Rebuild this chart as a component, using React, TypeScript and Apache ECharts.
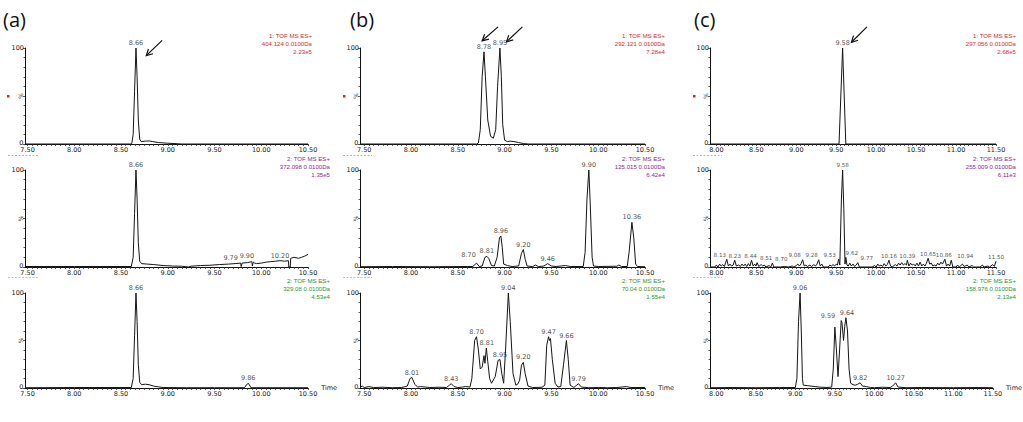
import React, { useEffect, useRef } from "react";
import * as echarts from "echarts";

// ---------- tick labels ----------
const xLabelsAB = [7.5, 8.0, 8.5, 9.0, 9.5, 10.0, 10.5];
const xLabelsC = [8.0, 8.5, 9.0, 9.5, 10.0, 10.5, 11.0, 11.5];
const panelLetters = ["(a)", "(b)", "(c)"];

// ---------- traces [time, %] ----------
const traceA1 = [[7.473,0],[8.60,0],[8.615,0.5],[8.63,10],[8.645,55],[8.66,100],[8.672,70],[8.685,25],[8.70,5],[8.715,2.5],[8.76,3],[8.80,3.2],[8.84,2.5],[8.90,1.5],[9.0,0.8],[9.1,0.3],[9.15,0],[10.5,0]];
const traceA2 = [[7.473,0.5],[8.0,0.5],[8.5,0.5],[8.61,0.5],[8.63,10],[8.645,55],[8.66,100],[8.672,70],[8.685,25],[8.70,6],[8.72,3.5],[8.78,3],[8.85,2.5],[8.95,1.5],[9.05,1],[9.15,0.8],[9.22,0],[9.25,0.8],[9.35,1.5],[9.45,1.8],[9.55,2.5],[9.65,3],[9.72,3.5],[9.78,4],[9.785,0.5],[9.795,4],[9.85,4.5],[9.90,5.5],[9.905,1],[9.915,5],[9.93,4],[9.95,3.5],[10.0,4],[10.05,5],[10.1,5.5],[10.15,6],[10.2,6.5],[10.25,6],[10.29,6.5],[10.295,0],[10.31,0],[10.315,9],[10.35,10],[10.4,9],[10.43,10],[10.46,11],[10.5,13]];
const traceA3 = [[7.473,0.3],[8.0,0.5],[8.5,0.5],[8.61,0.5],[8.63,10],[8.645,55],[8.66,100],[8.672,70],[8.685,25],[8.70,6],[8.72,3.5],[8.76,4],[8.80,3.5],[8.85,2],[8.9,1.2],[8.95,0.5],[9.2,0.3],[9.5,0.3],[9.82,0.3],[9.84,3],[9.86,5],[9.875,3],[9.89,0.3],[10.5,0.3]];
const traceB1 = [[7.455,0],[8.70,0],[8.72,1],[8.74,15],[8.76,70],[8.78,96],[8.795,70],[8.82,25],[8.85,8],[8.88,6],[8.905,15],[8.925,60],[8.95,100],[8.965,70],[8.98,20],[9.0,4],[9.03,2.5],[9.06,3],[9.1,2.5],[9.15,1.5],[9.2,0.5],[9.25,0],[10.5,0]];
const traceB2 = [[7.455,0.3],[7.8,0.5],[8.2,0.3],[8.6,0.5],[8.66,0.5],[8.70,4],[8.73,0.5],[8.76,1],[8.79,10],[8.81,11],[8.83,9],[8.86,1.5],[8.89,1],[8.92,10],[8.945,30],[8.96,32],[8.975,20],[8.99,3],[9.03,1.5],[9.08,0.5],[9.15,1],[9.18,14],[9.20,18],[9.22,8],[9.24,1],[9.3,0.5],[9.33,2],[9.36,0.5],[9.42,1],[9.46,3.5],[9.50,1],[9.55,0.5],[9.65,1.5],[9.70,0.5],[9.84,0.5],[9.86,15],[9.88,70],[9.90,100],[9.915,65],[9.935,10],[9.95,1],[10.0,0.5],[10.2,0.8],[10.22,2],[10.25,0.5],[10.31,0.5],[10.33,15],[10.36,46],[10.38,30],[10.40,3],[10.42,0.5],[10.5,0.3]];
const traceB3 = [[7.455,1],[7.48,2],[7.50,0.5],[7.55,1.5],[7.6,0.5],[7.7,0.8],[7.8,0.3],[7.9,0.5],[7.96,2],[7.99,10],[8.01,11],[8.04,4],[8.07,1],[8.1,1.5],[8.2,0.5],[8.3,0.8],[8.38,0.5],[8.41,3],[8.43,4.5],[8.46,1.5],[8.5,0.5],[8.55,1],[8.58,1.5],[8.63,1],[8.65,10],[8.68,50],[8.70,54],[8.72,40],[8.74,20],[8.76,22],[8.78,34],[8.79,26],[8.805,42],[8.82,28],[8.84,10],[8.86,5],[8.90,12],[8.93,29],[8.95,30],[8.97,15],[8.99,5],[9.01,40],[9.04,100],[9.06,70],[9.09,15],[9.12,3],[9.14,4],[9.16,8],[9.18,24],[9.20,27],[9.22,15],[9.25,2],[9.3,0.5],[9.4,0.8],[9.43,3],[9.45,45],[9.47,54],[9.48,50],[9.49,52],[9.51,30],[9.54,5],[9.57,1],[9.60,1.5],[9.63,25],[9.66,50],[9.68,30],[9.70,3],[9.74,0.5],[9.77,3],[9.79,4.5],[9.82,1],[9.9,0.3],[10.0,0.5],[10.1,0.3],[10.2,0.5],[10.3,1.5],[10.35,0.5],[10.5,0.5]];
const traceC1 = [[7.92,0],[9.535,0],[9.58,100],[9.62,0],[11.5,0]];
const traceC2 = [[7.92,0],[7.98,0],[8.0,2],[8.02,0],[8.04,3],[8.06,1],[8.08,2.5],[8.10,0.5],[8.13,8],[8.15,1],[8.17,3],[8.19,1],[8.21,2],[8.23,7],[8.25,1],[8.28,2],[8.30,0.5],[8.32,3],[8.34,1],[8.36,3],[8.38,0.5],[8.40,3.5],[8.42,1],[8.44,7],[8.46,1],[8.48,3],[8.495,1],[8.51,4.5],[8.53,0.5],[8.56,2.5],[8.58,1],[8.60,2],[8.62,0],[8.66,1.5],[8.68,0],[8.70,4],[8.72,0],[8.80,0],[8.85,0.5],[8.90,0],[8.95,1],[8.97,0],[9.0,1.5],[9.02,3],[9.04,1],[9.06,3.5],[9.08,7.5],[9.10,1],[9.12,2],[9.14,0.5],[9.17,2],[9.19,0.5],[9.22,2.5],[9.24,1],[9.26,3],[9.28,7.5],[9.30,1],[9.32,3],[9.34,0],[9.40,0],[9.42,2],[9.44,1],[9.46,2.5],[9.48,1],[9.50,3],[9.515,2],[9.53,8],[9.545,2],[9.565,70],[9.58,100],[9.595,60],[9.61,3],[9.62,10],[9.635,2],[9.65,1],[9.67,4],[9.69,1],[9.71,3],[9.73,0.5],[9.75,2],[9.77,4.5],[9.79,0],[9.95,0],[9.98,1.5],[10.0,0],[10.02,3],[10.04,1],[10.06,2],[10.08,0.5],[10.10,3.5],[10.12,1],[10.14,2.5],[10.16,7],[10.18,1],[10.20,0],[10.24,2.5],[10.26,1],[10.28,4],[10.30,2],[10.32,4.5],[10.34,2],[10.36,3.5],[10.38,2],[10.39,7],[10.41,1],[10.43,4],[10.45,2],[10.47,3],[10.49,1],[10.51,4],[10.53,1],[10.55,5],[10.57,1],[10.59,3],[10.61,1],[10.63,4],[10.65,9],[10.67,3],[10.69,4],[10.71,1],[10.73,2],[10.75,1],[10.77,4],[10.79,2],[10.81,5],[10.83,3],[10.86,8],[10.88,1],[10.90,3],[10.92,1],[10.94,7],[10.96,0],[11.0,0],[11.02,2],[11.04,0],[11.08,3],[11.10,0.5],[11.14,2],[11.16,0],[11.20,1.5],[11.22,0],[11.30,0],[11.33,2],[11.35,0],[11.40,1],[11.42,0],[11.46,2.5],[11.48,0.5],[11.50,6]];
const traceC3 = [[7.92,0.3],[8.2,0.5],[8.5,0.3],[8.8,0.5],[9.0,0.5],[9.02,10],[9.04,70],[9.06,100],[9.075,60],[9.09,10],[9.10,3],[9.15,2.5],[9.2,2],[9.25,1.5],[9.3,1],[9.4,0.5],[9.46,1],[9.48,20],[9.50,64],[9.52,40],[9.54,12],[9.56,40],[9.58,71],[9.59,69],[9.61,50],[9.625,65],[9.64,74],[9.66,60],[9.68,20],[9.70,5],[9.73,3.5],[9.76,3],[9.79,4],[9.82,5.5],[9.85,2],[9.9,1.5],[9.95,0.5],[10.0,0.3],[10.1,0.8],[10.2,0.5],[10.23,2],[10.27,5.5],[10.30,1],[10.4,0.3],[10.6,0.5],[11.0,0.3],[11.3,0.5],[11.5,0.3]];

// ---------- peak labels [text, time, %] ----------
const peaksA1 = [["8.66", 8.66, 100]];
const peaksA2 = [["8.66", 8.66, 100], ["9.79", 9.79, 4.5], ["9.90", 9.90, 6.5], ["10.20", 10.20, 6.5]];
const peaksA3 = [["8.66", 8.66, 100], ["9.86", 9.86, 5]];
const peaksB1 = [["8.78", 8.78, 96], ["8.95", 8.95, 100]];
const peaksB2 = [["8.70", 8.70, 7], ["8.81", 8.81, 11], ["8.96", 8.96, 32], ["9.20", 9.20, 18], ["9.46", 9.46, 3.5], ["9.90", 9.90, 100], ["10.36", 10.36, 46]];
const peaksB3 = [["8.01", 8.01, 11], ["8.43", 8.43, 4.5], ["8.70", 8.70, 54], ["8.81", 8.81, 42], ["8.95", 8.95, 30], ["9.04", 9.04, 100], ["9.20", 9.20, 27], ["9.47", 9.47, 54], ["9.66", 9.66, 50], ["9.79", 9.79, 4.5]];
const peaksC1 = [["9.58", 9.58, 100]];
const peaksC2 = [["8.13", 8.13, 8], ["8.23", 8.23, 7], ["8.44", 8.44, 7], ["8.51", 8.51, 4.5], ["8.70", 8.70, 4], ["9.08", 9.08, 7.5], ["9.28", 9.28, 7.5], ["9.53", 9.53, 8], ["9.58", 9.58, 100], ["9.62", 9.62, 10], ["9.77", 9.77, 4.5], ["10.16", 10.16, 7], ["10.39", 10.39, 7], ["10.65", 10.65, 9], ["10.86", 10.86, 8], ["10.94", 10.94, 7], ["11.50", 11.50, 6]];
const peaksC3 = [["9.06", 9.06, 100], ["9.59", 9.59, 71], ["9.64", 9.64, 74], ["9.82", 9.82, 5.5], ["10.27", 10.27, 5.5]];

// ---------- trace headers ----------
const headA1 = ["1: TOF MS ES+", "404.124 0.0100Da", "2.23e5"];
const headA2 = ["2: TOF MS ES+", "372.098 0.0100Da", "1.35e5"];
const headA3 = ["2: TOF MS ES+", "329.08 0.0100Da", "4.53e4"];
const headB1 = ["1: TOF MS ES+", "292.121 0.0100Da", "7.28e4"];
const headB2 = ["2: TOF MS ES+", "125.015 0.0100Da", "6.42e4"];
const headB3 = ["2: TOF MS ES+", "70.04 0.0100Da", "1.55e4"];
const headC1 = ["1: TOF MS ES+", "297.056 0.0100Da", "2.68e5"];
const headC2 = ["2: TOF MS ES+", "255.009 0.0100Da", "6.11e3"];
const headC3 = ["2: TOF MS ES+", "158.976 0.0100Da", "2.13e4"];

// ---------- layout / style (not data) ----------
const FONT = '"DejaVu Sans", sans-serif';
const HEAD_FONT = '"Liberation Sans Narrow", "Liberation Sans", sans-serif';
const cols = [
  { left: 25, width: 283, min: 7.473, max: 10.5, labels: xLabelsAB, headRight: [312, 330, 330] },
  { left: 360, width: 285, min: 7.455, max: 10.5, labels: xLabelsAB, headRight: [665, 665, 665] },
  { left: 710, width: 286, min: 7.92, max: 11.5, labels: xLabelsC, headRight: [1016, 1016, 1016] },
];
const rows = [
  { top: 48, height: 96, color: "#e02a2a", headTop: 32 },
  { top: 170, height: 97, color: "#8e2a8e", headTop: 154.5 },
  { top: 293, height: 95, color: "#2a962a", headTop: 277 },
];

// label pixel shifts to mimic the instrument's de-overlapping
const labelShift: Record<number, Record<string, number>> = {
  3: { "9.79": -11, "9.90": -5 },
  4: { "8.70": -8 },
  5: { "8.13": -7, "8.44": -1, "8.51": 9, "8.70": 9, "9.08": -8, "9.28": -7, "9.53": -9, "9.62": 6, "9.77": 9, "10.86": -1, "10.94": 14 },
  8: { "9.59": -14, "9.64": 1 },
};
const labelFontSize: Record<number, number> = { 5: 5.6 };

const panels = [
  { trace: traceA1, peaks: peaksA1, head: headA1 },
  { trace: traceB1, peaks: peaksB1, head: headB1 },
  { trace: traceC1, peaks: peaksC1, head: headC1 },
  { trace: traceA2, peaks: peaksA2, head: headA2 },
  { trace: traceB2, peaks: peaksB2, head: headB2 },
  { trace: traceC2, peaks: peaksC2, head: headC2 },
  { trace: traceA3, peaks: peaksA3, head: headA3 },
  { trace: traceB3, peaks: peaksB3, head: headB3 },
  { trace: traceC3, peaks: peaksC3, head: headC3 },
];

// arrows in data coordinates: panel, tail [t,%], head [t,%]
const arrows = [
  { panel: 0, tail: [8.94, 108], head: [8.77, 92] },
  { panel: 1, tail: [8.93, 122], head: [8.76, 107.5] },
  { panel: 1, tail: [9.19, 122], head: [9.02, 106.5] },
  { panel: 2, tail: [9.885, 122], head: [9.69, 106] },
];

function tickList(a: number, b: number, step: number) {
  const out: number[] = [];
  for (let v = a; v <= b + 1e-9; v += step) out.push(Math.round(v * 1000) / 1000);
  return out;
}

export default function App() {
  const ref = useRef<HTMLDivElement>(null);
  useEffect(() => {
    if (!ref.current) return;
    const chart = echarts.init(ref.current, undefined, { renderer: "svg" });
    const grids: any[] = [];
    const xAxes: any[] = [];
    const yAxes: any[] = [];
    const series: any[] = [];
    panels.forEach((p, i) => {
      const r = Math.floor(i / 3);
      const c = i % 3;
      const col = cols[c];
      const row = rows[r];
      grids.push({ left: col.left, width: col.width, top: row.top, height: row.height });
      xAxes.push({
        type: "value",
        gridIndex: i,
        min: col.min,
        max: col.max,
        axisLine: { show: true, onZero: false, lineStyle: { color: "#111", width: 1 } },
        axisTick: { show: true, customValues: tickList(col.labels[0], col.max, 0.05), length: 2, lineStyle: { color: "#333", width: 0.8 } },
        axisLabel: { customValues: col.labels, formatter: (v: number) => v.toFixed(2), fontSize: 6.5, lineHeight: 6.5, color: "#222", margin: 2.5, fontFamily: FONT },
        splitLine: { show: false },
        name: r === 2 ? "Time" : "",
        nameLocation: "end",
        nameGap: 3,
        nameTextStyle: { fontSize: 6.5, color: "#222", fontFamily: FONT },
      });
      yAxes.push({
        type: "value",
        gridIndex: i,
        min: 0,
        max: 100,
        interval: 50,
        axisLine: { show: true, lineStyle: { color: "#111", width: 1 } },
        axisTick: { show: true, length: 2, lineStyle: { color: "#333", width: 0.8 } },
        minorTick: { show: true, splitNumber: 5, length: 1.5, lineStyle: { color: "#333", width: 0.8 } },
        axisLabel: { formatter: (v: number) => (v === 100 ? "100" : ""), fontSize: 6.5, lineHeight: 5, color: "#222", margin: 1, fontFamily: FONT },
        splitLine: { show: false },
        name: "%",
        nameLocation: "middle",
        nameRotate: 90,
        nameGap: 2,
        nameMoveOverlap: false,
        nameTextStyle: { fontSize: 6, color: "#444", fontFamily: FONT },
      });
      series.push({
        type: "line",
        xAxisIndex: i,
        yAxisIndex: i,
        data: p.trace,
        symbol: "none",
        clip: false,
        lineStyle: { color: "#151515", width: 1 },
        silent: true,
      });
      const shifts = labelShift[i] || {};
      const dxList = p.peaks.map((pk: any) => shifts[pk[0]] || 0);
      const fs = labelFontSize[i] || 6.5;
      series.push({
        type: "scatter",
        xAxisIndex: i,
        yAxisIndex: i,
        symbolSize: 1,
        itemStyle: { color: "rgba(0,0,0,0)" },
        silent: true,
        clip: false,
        data: p.peaks.map((pk: any) => ({ name: pk[0], value: [pk[1], pk[2]] })),
        label: {
          show: true,
          position: "top",
          distance: 1,
          formatter: (q: any) => q.name,
          fontSize: fs,
          lineHeight: fs + 0.5,
          color: "#222",
          fontFamily: FONT,
        },
        labelLayout: (params: any) => ({ dx: dxList[params.dataIndex] || 0, hideOverlap: false }),
      });
    });

    chart.setOption({
      animation: false,
      backgroundColor: "#fff",
      grid: grids,
      xAxis: xAxes,
      yAxis: yAxes,
      series,
    });

    const graphic: any[] = [];
    panelLetters.forEach((t, c) => {
      graphic.push({
        type: "text",
        style: { text: t, x: [3, 350, 694][c], y: 19, fill: "#111", fontSize: 20, fontFamily: '"Open Sans", sans-serif', verticalAlign: "middle" },
      });
      graphic.push({ type: "rect", shape: { x: [7, 343, 693][c], y: 95, width: 2.5, height: 2.5 }, style: { fill: "#e02020" } });
      graphic.push({ type: "line", shape: { x1: [8, 343, 693][c], y1: 155.5, x2: [38, 372, 722][c], y2: 155.5 }, style: { stroke: "#d8a0d8", lineWidth: 1, lineDash: [2, 1.5] } });
      graphic.push({ type: "line", shape: { x1: [8, 343, 693][c], y1: 277.5, x2: [38, 372, 722][c], y2: 277.5 }, style: { stroke: "#b0ccb0", lineWidth: 1, lineDash: [2, 1.5] } });
    });
    panels.forEach((p, i) => {
      const r = Math.floor(i / 3);
      const c = i % 3;
      graphic.push({
        type: "text",
        style: {
          text: p.head.join("\n"),
          x: cols[c].headRight[r],
          y: rows[r].headTop,
          align: "right",
          verticalAlign: "top",
          lineHeight: 7.8,
          fontSize: 6.1,
          fontFamily: HEAD_FONT,
          fill: rows[r].color,
        },
      });
      // y-axis "0" label, sitting just above the time-axis labels
      const origin = chart.convertToPixel({ xAxisIndex: i, yAxisIndex: i }, [cols[c].min, 0]) as number[];
      if (origin) {
        graphic.push({
          type: "text",
          style: {
            text: "0",
            x: origin[0] - 1.5,
            y: origin[1] + 2.3,
            align: "right",
            verticalAlign: "bottom",
            fontSize: 6.5,
            lineHeight: 6,
            fontFamily: FONT,
            fill: "#222",
          },
        });
      }
    });
    arrows.forEach((a) => {
      const T = chart.convertToPixel({ xAxisIndex: a.panel, yAxisIndex: a.panel }, a.tail) as number[];
      const H = chart.convertToPixel({ xAxisIndex: a.panel, yAxisIndex: a.panel }, a.head) as number[];
      if (!T || !H) return;
      const dx = T[0] - H[0];
      const dy = T[1] - H[1];
      const len = Math.hypot(dx, dy) || 1;
      const ux = dx / len;
      const uy = dy / len;
      const ang = (28 * Math.PI) / 180;
      const L = 7;
      const rot = (s: number) => [
        H[0] + L * (ux * Math.cos(s * ang) - uy * Math.sin(s * ang)),
        H[1] + L * (ux * Math.sin(s * ang) + uy * Math.cos(s * ang)),
      ];
      graphic.push({ type: "line", shape: { x1: T[0], y1: T[1], x2: H[0], y2: H[1] }, style: { stroke: "#111", lineWidth: 1.2 } });
      graphic.push({ type: "polyline", shape: { points: [rot(1), H, rot(-1)] }, style: { stroke: "#111", lineWidth: 1.2, fill: "none" } });
    });
    chart.setOption({ graphic });

    return () => chart.dispose();
  }, []);
  return <div ref={ref} style={{ position: "absolute", left: 0, top: 0, width: 1023, height: 422, background: "#fff" }} />;
}
